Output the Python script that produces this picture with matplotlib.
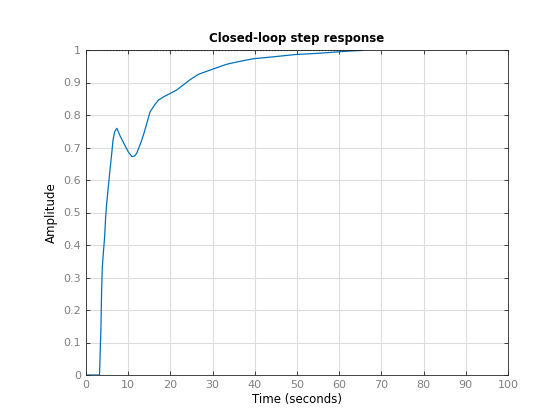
import numpy as np
import matplotlib
matplotlib.use("Agg")
from matplotlib import pyplot as plt

# step response
time = [0, 3.2, 3.55, 3.7, 3.87, 4.1, 4.42, 4.66, 4.9, 5.37, 5.76, 6.16, 6.4, 6.8, 7.3,
        8.1, 9.0, 10.0, 10.9, 11.5, 12.0, 12.95, 13.74, 14.4, 15.2, 16.3, 17.2, 18.4,
        19.9, 21.5, 23.0, 24.6, 26.6, 29.8, 33.3, 35.7, 39.6, 44.4, 49.5, 53.9, 57.4,
        61.5, 65.7]
amp = [0, 0, 0.15, 0.26, 0.333, 0.374, 0.426, 0.487, 0.528, 0.59, 0.64, 0.69, 0.723, 0.749, 0.759,
       0.735, 0.712, 0.687, 0.672, 0.674, 0.682, 0.713, 0.744, 0.774, 0.81, 0.832, 0.846, 0.856,
       0.866, 0.877, 0.892, 0.908, 0.925, 0.94, 0.956, 0.963, 0.973, 0.979, 0.986, 0.989, 0.992,
       0.996, 0.999]
final_value = 1.0
xticks = list(range(0, 101, 10))
yticks = [i / 10 for i in range(11)]

fig = plt.figure(figsize=(5.6, 4.2), dpi=100)
ax = fig.add_axes([86 / 560, 45 / 420, 422 / 560, 325 / 420])

ax.plot(time, amp, color="#0072BD", linewidth=0.9)
ax.plot([time[0], time[-1]], [final_value, final_value], ':', color="black", linewidth=0.8)

ax.set_xlim(0, 100)
ax.set_ylim(0, 1)
ax.set_xticks(xticks)
ax.set_yticks(yticks)
ax.set_yticklabels(["0" if v == 0 else ("1" if v == 1 else "%g" % v) for v in yticks])
ax.grid(True, color="#dcdcdc", linewidth=0.8)
ax.set_axisbelow(True)
ax.tick_params(direction="in", top=True, right=True, length=3, labelsize=8,
               colors="#262626", labelcolor="#7f7f7f", width=0.6)
for s in ax.spines.values():
    s.set_color("#262626")
    s.set_linewidth(0.6)

ax.set_xlabel("Time (seconds)", fontsize=8.5, labelpad=2)
ax.set_ylabel("Amplitude", fontsize=8.5, labelpad=4)
ax.set_title("Closed-loop step response", fontsize=8.5, fontweight="bold", pad=6)

fig.savefig("out.png", dpi=100)
